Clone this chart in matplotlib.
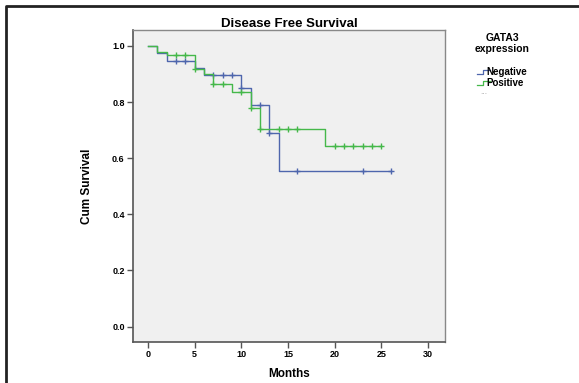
import numpy as np
import matplotlib
matplotlib.use("Agg")
import matplotlib.pyplot as plt
from matplotlib.lines import Line2D

plt.rcParams['font.family'] = ['Liberation Sans', 'DejaVu Sans']

# Kaplan-Meier steps
neg_times = [0, 1, 2, 5, 6, 10, 11, 13, 14, 26]
neg_surv = [1.0, 0.975, 0.948, 0.92, 0.897, 0.85, 0.79, 0.69, 0.555, 0.555]
neg_censor = [3, 4, 7, 8, 9, 10, 12, 13, 16, 23, 26]

pos_times = [0, 1, 2, 5, 6, 7, 9, 11, 12, 19, 25]
pos_surv = [1.0, 0.98, 0.968, 0.917, 0.9, 0.864, 0.835, 0.778, 0.704, 0.642, 0.642]
pos_censor = [3, 4, 5, 7, 8, 10, 11, 12, 14, 15, 16, 20, 21, 22, 23, 24, 25]

groups = ['Negative', 'Positive']
colors = ['#4e66ad', '#45b84a']

x_ticks = [0, 5, 10, 15, 20, 25, 30]
y_ticks = [0.0, 0.2, 0.4, 0.6, 0.8, 1.0]


def step_value(times, surv, t):
    idx = np.searchsorted(times, t, side='right') - 1
    return np.array(surv)[idx]


fig = plt.figure(figsize=(5.79, 3.83), dpi=100)
ax = fig.add_axes([133 / 579, 1 - 342 / 383, 312 / 579, 312 / 383])
ax.set_facecolor('#f0f0f0')

data = [(neg_times, neg_surv, neg_censor), (pos_times, pos_surv, pos_censor)]
for (t, s, c), col in zip(data, colors):
    ax.step(t, s, where='post', color=col, lw=1.0)
    ax.plot(c, step_value(t, s, c), '+', color=col, ms=5, mew=1.0, ls='none')

ax.set_xlim(-1.6, 31.8)
ax.set_ylim(-0.055, 1.057)
ax.set_xticks(x_ticks)
ax.set_yticks(y_ticks)
ax.set_xticklabels([str(v) for v in x_ticks], fontsize=6.5, fontweight='bold')
ax.set_yticklabels(['%.1f' % v for v in y_ticks], fontsize=6.5, fontweight='bold')
ax.tick_params(length=4, width=1, color='#555555', pad=2)
for side in ['left', 'bottom']:
    ax.spines[side].set_color('#555555')
    ax.spines[side].set_linewidth(1.2)
for side in ['top', 'right']:
    ax.spines[side].set_color('#888888')
    ax.spines[side].set_linewidth(1.0)

ax.set_title('Disease Free Survival', fontsize=9.5, fontweight='bold', pad=2)
ax.set_xlabel('Months', fontsize=8.5, fontweight='bold', labelpad=6)
ax.set_ylabel('Cum Survival', fontsize=8.5, fontweight='bold', labelpad=14)

# legend drawn by hand, SPSS style
fig.text(502 / 579, 1 - 38 / 383, 'GATA3', ha='center', va='center',
         fontsize=7.5, fontweight='bold')
fig.text(502 / 579, 1 - 49 / 383, 'expression', ha='center', va='center',
         fontsize=7.5, fontweight='bold')
for i, (g, col) in enumerate(zip(groups, colors)):
    yc = 72 + i * 11
    xs = np.array([454, 460, 460, 467]) + 23
    ys = np.array([yc + 2, yc + 2, yc - 2, yc - 2])
    fig.add_artist(Line2D(xs / 579, 1 - ys / 383, color=col, lw=0.9))
    fig.text(486 / 579, 1 - yc / 383, g, ha='left', va='center',
             fontsize=7, fontweight='bold')
fig.text(480 / 579, 1 - 93 / 383, '...', ha='left', va='center',
         fontsize=6, color='#a0a0a0')

# outer frame (top and left)
fig.add_artist(Line2D([6 / 579, 6 / 579, 1], [0, 1 - 6 / 383, 1 - 6 / 383],
                      color='#222222', lw=2.0))

fig.savefig('out.png', dpi=100)
